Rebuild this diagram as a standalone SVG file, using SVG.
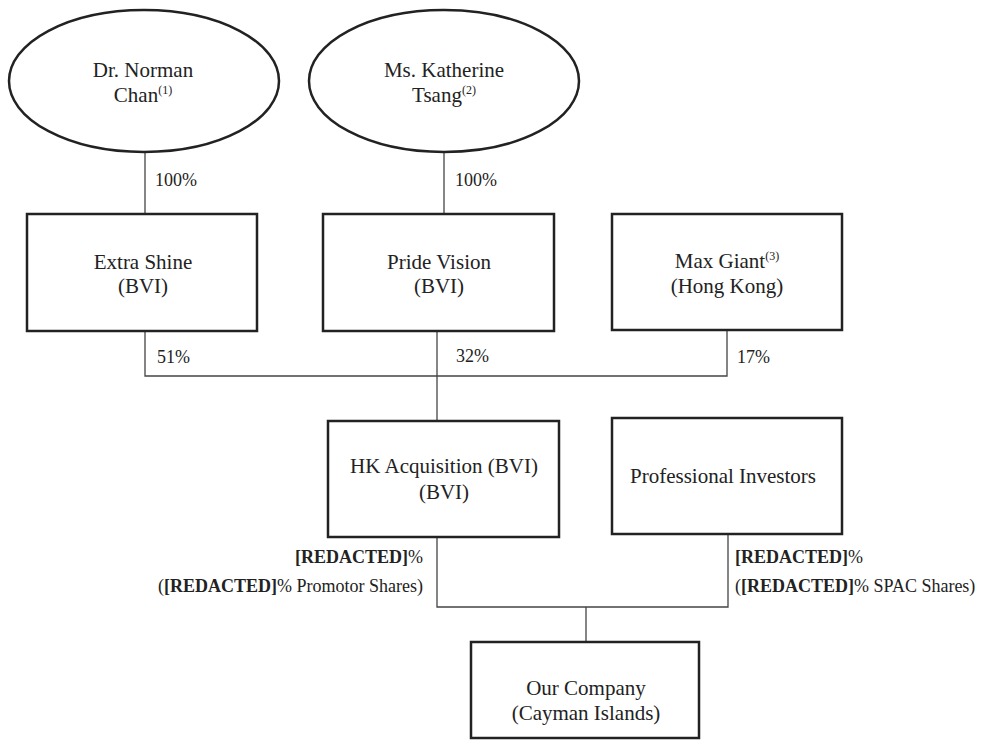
<svg xmlns="http://www.w3.org/2000/svg" width="995" height="755" viewBox="0 0 995 755">
<style>
.node{fill:#fff;stroke:#222;stroke-width:2.5}
.conn{fill:none;stroke:#444;stroke-width:1.3}
text{font-family:"Liberation Serif","Times New Roman",serif;fill:#222}
.lbl{font-size:21px;text-anchor:middle}
.pct{font-size:18px}
.sup{font-size:12px}
.b{font-weight:bold}
</style>
<rect width="995" height="755" fill="#fff"/>
<g id="connectors">
<line class="conn" x1="145" y1="152" x2="145" y2="215"/>
<line class="conn" x1="444" y1="152" x2="444" y2="215"/>
<polyline class="conn" points="145,331 145,376 727,376 727,330"/>
<line class="conn" x1="437" y1="331" x2="437" y2="421"/>
<polyline class="conn" points="437,537 437,607 728,607 728,534"/>
<line class="conn" x1="586" y1="607" x2="586" y2="642"/>
<text class="pct" x="155" y="186">100%</text>
<text class="pct" x="455" y="186">100%</text>
<text class="pct" x="157" y="363">51%</text>
<text class="pct" x="456" y="362">32%</text>
<text class="pct" x="737" y="363">17%</text>
<text class="pct" x="423" y="563" text-anchor="end"><tspan class="b">[REDACTED]</tspan>%</text>
<text class="pct" x="423" y="592" text-anchor="end">(<tspan class="b">[REDACTED]</tspan>% Promotor Shares)</text>
<text class="pct" x="735" y="563"><tspan class="b">[REDACTED]</tspan>%</text>
<text class="pct" x="735" y="592">(<tspan class="b">[REDACTED]</tspan>% SPAC Shares)</text>
</g>
<g id="norman">
<ellipse class="node" cx="144" cy="81" rx="135" ry="71"/>
<text class="lbl" x="143" y="77">Dr. Norman</text>
<text class="lbl" x="143" y="102">Chan<tspan class="sup" dy="-8">(1)</tspan></text>
</g>
<g id="katherine">
<ellipse class="node" cx="444" cy="81" rx="135" ry="71"/>
<text class="lbl" x="444" y="77">Ms. Katherine</text>
<text class="lbl" x="444" y="102">Tsang<tspan class="sup" dy="-8">(2)</tspan></text>
</g>
<g id="extra-shine">
<rect class="node" x="27" y="214" width="230" height="117"/>
<text class="lbl" x="143" y="269">Extra Shine</text>
<text class="lbl" x="143" y="293">(BVI)</text>
</g>
<g id="pride-vision">
<rect class="node" x="323" y="214" width="231" height="117"/>
<text class="lbl" x="439" y="269">Pride Vision</text>
<text class="lbl" x="439" y="293">(BVI)</text>
</g>
<g id="max-giant">
<rect class="node" x="612" y="214" width="230" height="116"/>
<text class="lbl" x="727" y="268">Max Giant<tspan class="sup" dy="-8">(3)</tspan></text>
<text class="lbl" x="727" y="293">(Hong Kong)</text>
</g>
<g id="hk-acquisition">
<rect class="node" x="328" y="421" width="231" height="116"/>
<text class="lbl" x="444" y="473">HK Acquisition (BVI)</text>
<text class="lbl" x="444" y="499">(BVI)</text>
</g>
<g id="professional-investors">
<rect class="node" x="612" y="418" width="230" height="116"/>
<text class="lbl" x="723" y="483">Professional Investors</text>
</g>
<g id="our-company">
<rect class="node" x="471" y="642" width="228" height="96"/>
<text class="lbl" x="586" y="695">Our Company</text>
<text class="lbl" x="586" y="720">(Cayman Islands)</text>
</g>
</svg>
